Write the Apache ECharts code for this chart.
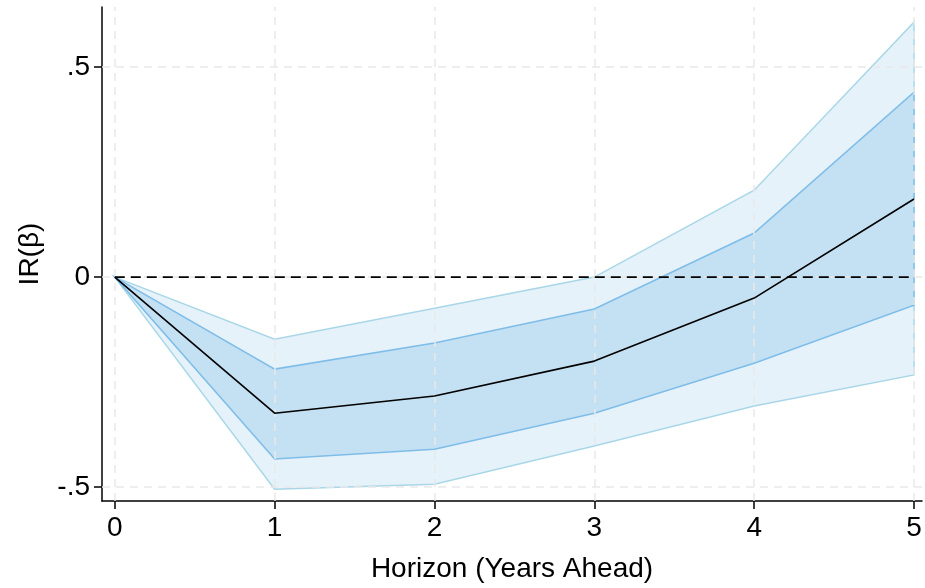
<!DOCTYPE html>
<html>
<head>
<meta charset="utf-8">
<script src="https://cdn.jsdelivr.net/npm/echarts@6/dist/echarts.min.js"></script>
<style>
  html, body { margin: 0; padding: 0; background: #fff; }
  #chart { width: 925px; height: 588px; }
</style>
</head>
<body>
<div id="chart"></div>
<script>
// horizons and impulse response estimates
const horizons = [0, 1, 2, 3, 4, 5]
const irPoint = [0, -0.324, -0.283, -0.200, -0.050, 0.186]
const innerUpper = [0, -0.219, -0.157, -0.076, 0.105, 0.440]
const innerLower = [0, -0.433, -0.410, -0.324, -0.205, -0.067]
const outerUpper = [0, -0.148, -0.074, 0.000, 0.207, 0.607]
const outerLower = [0, -0.505, -0.493, -0.402, -0.307, -0.233]
const yTicks = [-0.5, 0, 0.5]

const chart = echarts.init(document.getElementById('chart'))

const font = 'Liberation Sans, Arial, Helvetica, sans-serif'
const gridLine = { color: '#e9e9e9', width: 1.5, type: [8, 6] }

function band(upper, lower, fill, edge) {
  return {
    type: 'custom',
    data: [0],
    silent: true,
    renderItem: (params, api) => {
      const pts = []
      horizons.forEach((h, i) => pts.push(api.coord([h, upper[i]])))
      for (let i = horizons.length - 1; i >= 0; i--) pts.push(api.coord([horizons[i], lower[i]]))
      return {
        type: 'polygon',
        shape: { points: pts },
        style: { fill: fill, stroke: edge, lineWidth: 1.5 }
      }
    }
  }
}

const option = {
  animation: false,
  grid: { left: 102, right: 3, top: 7, bottom: 86 },
  xAxis: {
    type: 'value',
    min: -0.08,
    max: 5.05,
    name: 'Horizon (Years Ahead)',
    nameLocation: 'middle',
    nameGap: 54,
    nameTextStyle: { fontFamily: font, fontSize: 28, color: '#000' },
    axisLine: { show: true, onZero: false, lineStyle: { color: '#000', width: 1.5 } },
    axisTick: { show: true, length: 8, customValues: horizons, lineStyle: { color: '#000', width: 1.5 } },
    axisLabel: { customValues: horizons, margin: 13, fontFamily: font, fontSize: 28, color: '#000' },
    splitLine: { show: false }
  },
  yAxis: {
    type: 'value',
    min: -0.533,
    max: 0.643,
    name: 'IR(β)',
    nameLocation: 'middle',
    nameGap: 58,
    nameTextStyle: { fontFamily: font, fontSize: 28, color: '#000' },
    axisLine: { show: true, onZero: false, lineStyle: { color: '#000', width: 1.5 } },
    axisTick: { show: true, length: 8, customValues: yTicks, lineStyle: { color: '#000', width: 1.5 } },
    axisLabel: {
      customValues: yTicks,
      margin: 12,
      fontFamily: font,
      fontSize: 28,
      color: '#000',
      formatter: v => v === 0 ? '0' : String(v).replace('0.', '.')
    },
    splitLine: { show: false }
  },
  series: [
    // dashed gridlines
    {
      type: 'line',
      data: [],
      markLine: {
        silent: true,
        symbol: 'none',
        label: { show: false },
        lineStyle: gridLine,
        data: horizons.map(h => ({ xAxis: h })).concat(yTicks.map(t => ({ yAxis: t })))
      }
    },
    band(outerUpper, outerLower, '#e6f2f9', '#a9d7e8'),
    band(innerUpper, innerLower, '#c4e0f3', '#7fbde9'),
    {
      type: 'line',
      data: [[horizons[0], 0], [horizons[horizons.length - 1], 0]],
      symbol: 'none',
      lineStyle: { color: '#000', width: 1.8, type: [10, 6] },
      z: 5
    },
    {
      type: 'line',
      data: horizons.map((h, i) => [h, irPoint[i]]),
      symbol: 'none',
      lineStyle: { color: '#000', width: 1.6 },
      z: 6
    }
  ]
}

chart.setOption(option)
</script>
</body>
</html>
